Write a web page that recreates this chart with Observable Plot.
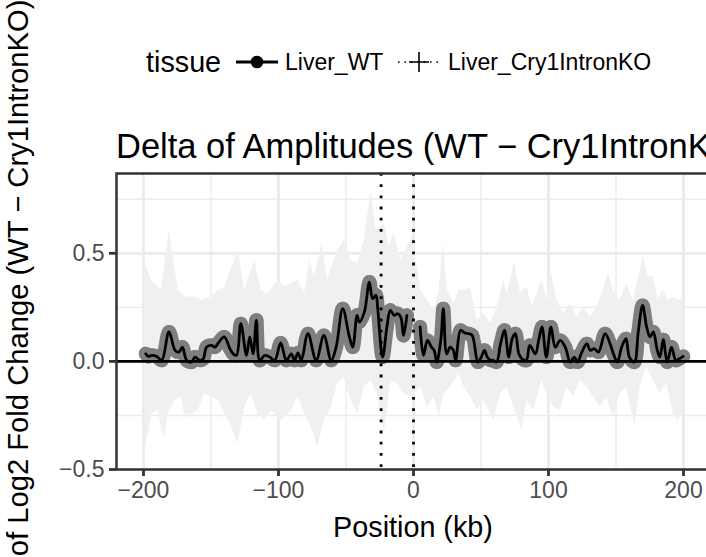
<!DOCTYPE html>
<html><head><meta charset="utf-8">
<script src="https://cdn.jsdelivr.net/npm/d3@7"></script>
<script src="https://cdn.jsdelivr.net/npm/@observablehq/plot@0.6"></script>
<style>
html,body{margin:0;padding:0;background:#fff;}
#wrap{position:relative;width:706px;height:557px;overflow:hidden;font-family:"Liberation Sans",Arial,Helvetica,sans-serif;}
#wrap svg{position:absolute;left:0;top:0;}
</style></head><body><div id="wrap"></div>
<script>
// ---- data ----
const tissues = ["Liver_WT", "Liver_Cry1IntronKO"];
const xTicks = [-200, -100, 0, 100, 200];
const xMinor = [-150, -50, 50, 150];
const yTicks = [-0.5, 0, 0.5];
const yMinor = [-0.25, 0.25, 0.75];
const markerLines = [-24, 0];

// delta (WT - KO), Liver_WT, null = no data (gap)
const linePos = [-198.3,-196.3,-193.9,-190.2,-186.5,-181.1,-176.6,-173.7,-171.2,-168.0,-164.3,-161.9,-158.2,-155.7,-153.3,-149.6,-147.1,-144.6,-140.2,-136.0,-133.6,-131.1,-127.9,-123.7,-121.3,-118.8,-116.4,-113.9,-110.2,-106.5,-102.8,-98.4,-94.2,-90.5,-88.1,-85.6,-83.1,-78.2,-72.1,-66.4,-61.0,-57.3,-52.4,-47.5,-45.0,-41.8,-40.1,-36.4,-32.7,-30.3,-27.8,-26.6,-22.9,-19.7,-17.2,-14.3,-11.8,-9.4,-7.4,-4.9,
 0,
 4.9,7.4,10.3,13.3,15.3,17.2,20.2,22.1,24.6,27.1,29.5,31.2,34.9,37.9,41.1,43.5,47.7,50.2,52.6,54.6,57.1,59.0,61.5,64.5,67.4,70.6,73.1,75.5,78.0,80.4,83.6,86.1,90.3,92.7,95.2,98.4,101.8,105.0,108.7,112.4,116.1,119.1,121.5,124.7,128.4,130.9,133.8,137.0,141.9,145.6,148.1,151.0,154.2,157.4,159.9,163.6,166.5,169.7,172.7,175.2,177.6,180.6,182.5,185.0,187.9,191.1,194.3,196.8,199.8];
const lineVal = [0.035,0.023,0.028,0.023,0.005,0.136,0.051,0.043,0.066,0.005,-0.003,0.020,0.005,0.012,0.066,0.074,0.066,0.085,0.113,0.059,0.035,0.028,0.174,0.028,0.113,0.035,0.190,0.005,0.028,0.020,0.005,0.085,0.005,0.035,0.005,0.039,0.005,0.128,0.005,0.120,0.005,0.066,0.244,0.113,0.066,0.213,0.182,0.228,0.367,0.290,0.306,0.252,0.020,0.159,0.236,0.213,0.221,0.205,0.120,0.213,
 null,
 0.159,0.028,0.097,0.066,0.051,-0.003,0.097,0.244,0.035,0.066,0.051,0.005,0.144,0.131,0.128,0.120,-0.003,0.020,0.051,0.020,0.005,0.005,-0.003,0.082,0.144,0.020,0.105,0.128,0.035,0.012,0.005,0.074,0.035,0.097,0.159,0.020,0.159,0.066,0.097,0.066,-0.003,0.020,-0.003,0.043,0.082,0.051,0.059,0.043,0.128,0.082,0.035,-0.003,0.066,0.105,0.020,-0.003,0.136,0.259,0.159,0.113,0.136,0.051,0.020,0.100,-0.003,0.066,0.005,0.012,0.023];

// ribbon (upper / lower bound)
const upperPos = [-198.8,-193.9,-186.5,-181.1,-174.2,-169.2,-161.9,-157.0,-149.6,-144.6,-139.7,-129.9,-125.0,-117.6,-112.7,-107.7,-100.4,-95.5,-85.6,-80.7,-77.0,-73.3,-67.9,-63.5,-57.3,-51.2,-46.3,-41.3,-36.4,-31.5,-27.8,-21.6,-18.0,-14.3,-9.4,-0.7,
 5.4,10.3,15.3,18.9,22.1,25.1,30.0,33.7,38.6,42.3,47.2,52.1,57.1,62.0,66.9,69.4,74.8,79.2,84.1,87.8,91.5,95.2,98.9,101.8,106.3,111.2,116.1,121.0,126.0,130.9,135.8,140.7,144.4,148.1,153.0,157.9,162.9,166.5,170.2,173.9,177.6,181.3,185.0,188.7,192.4,196.1,199.3];
const upperVal = [0.452,0.375,0.329,0.606,0.329,0.298,0.298,0.282,0.298,0.329,0.344,0.514,0.329,0.468,0.329,0.313,0.375,0.344,0.375,0.313,0.468,0.390,0.545,0.375,0.498,0.560,0.468,0.452,0.560,0.792,0.606,0.637,0.529,0.591,0.468,0.576,
 0.329,0.282,0.236,0.329,0.552,0.329,0.267,0.329,0.329,0.344,0.190,0.221,0.174,0.252,0.375,0.313,0.460,0.313,0.344,0.252,0.313,0.375,0.282,0.414,0.282,0.221,0.267,0.205,0.252,0.205,0.252,0.329,0.406,0.329,0.282,0.360,0.282,0.375,0.491,0.390,0.390,0.282,0.329,0.282,0.298,0.282,0.290];
const lowerPos = [-198.8,-196.3,-193.9,-188.9,-186.5,-184.0,-181.5,-176.6,-171.7,-169.2,-164.3,-159.4,-154.5,-149.6,-144.6,-139.7,-134.8,-129.9,-125.0,-120.1,-115.1,-110.2,-105.3,-97.9,-90.5,-85.6,-80.7,-75.8,-70.9,-65.9,-61.0,-56.1,-51.2,-46.3,-41.3,-36.4,-31.5,-26.6,-24.1,-21.6,-16.7,-11.8,-6.9,-2.0,
 5.4,10.3,15.3,18.9,22.6,27.6,33.7,37.4,42.3,47.2,52.1,59.5,64.5,69.4,74.3,80.4,84.1,89.0,95.2,98.9,103.8,108.7,113.6,118.6,123.5,128.4,133.3,138.2,143.2,148.1,153.0,157.9,164.1,167.8,172.7,177.6,182.5,187.5,192.4,196.1,199.3];
const lowerVal = [-0.397,-0.335,-0.242,-0.227,-0.319,-0.350,-0.242,-0.181,-0.165,-0.258,-0.242,-0.227,-0.150,-0.165,-0.181,-0.242,-0.304,-0.381,-0.211,-0.150,-0.242,-0.273,-0.227,-0.273,-0.227,-0.165,-0.242,-0.304,-0.397,-0.273,-0.211,-0.103,-0.073,-0.181,-0.242,-0.119,-0.088,-0.150,-0.242,-0.335,-0.088,-0.103,-0.150,-0.165,
 -0.119,-0.211,-0.165,-0.258,-0.150,-0.119,-0.057,-0.119,-0.165,-0.227,-0.181,-0.273,-0.150,-0.119,-0.211,-0.319,-0.181,-0.227,-0.088,-0.150,-0.211,-0.227,-0.119,-0.165,-0.088,-0.119,-0.165,-0.211,-0.165,-0.258,-0.150,-0.119,-0.304,-0.119,-0.026,-0.088,-0.150,-0.103,-0.242,-0.273,-0.242];

// ---- tables ----
const lineData = linePos.map((p, i) => ({pos: p, val: lineVal[i]}));
const upperData = upperPos.map((p, i) => ({pos: p, val: upperVal[i]}));
const lowerData = lowerPos.map((p, i) => ({pos: p, val: lowerVal[i]}));

const FONT = '"Liberation Sans", Arial, Helvetica, sans-serif';
const W = 706, H = 557;

const chart = Plot.plot({
  width: W, height: H,
  marginLeft: 116, marginRight: -4, marginTop: 173, marginBottom: 88,
  style: {fontFamily: FONT, background: "transparent", overflow: "hidden"},
  x: {domain: [-220, 220]},
  y: {domain: [-0.5, 0.869]},
  marks: [
    Plot.ruleX(xMinor, {stroke: "#EBEBEB", strokeWidth: 1.4}),
    Plot.ruleY(yMinor, {stroke: "#EBEBEB", strokeWidth: 1.4}),
    Plot.ruleX(xTicks, {stroke: "#EBEBEB", strokeWidth: 2.8}),
    Plot.ruleY(yTicks, {stroke: "#EBEBEB", strokeWidth: 2.8}),
    Plot.areaY(upperData, {x: "pos", y1: 0, y2: "val", fill: "#F0F0F0"}),
    Plot.areaY(lowerData, {x: "pos", y1: 0, y2: "val", fill: "#F0F0F0"}),
    Plot.line(lineData, {x: "pos", y: "val", stroke: "#7F7F7F", strokeWidth: 14, strokeLinejoin: "round", strokeLinecap: "round", curve: "catmull-rom"}),
    Plot.dot(lineData, {x: "pos", y: "val", r: 7, fill: "#7F7F7F", stroke: null}),
    Plot.line(lineData, {x: "pos", y: "val", stroke: "black", strokeWidth: 2.8, curve: "catmull-rom"}),
    Plot.ruleY([0], {stroke: "black", strokeWidth: 2.8}),
    Plot.ruleX(markerLines, {stroke: "black", strokeWidth: 2.8, strokeDasharray: "2.8 8.4"}),
    Plot.frame({stroke: "#333333", strokeWidth: 2.5}),
    Plot.axisX(xTicks, {tickSize: 7, tickPadding: 5, fontSize: 23, stroke: "#333333", strokeWidth: 2.8, fill: "#4D4D4D", tickFormat: d3.format("d"), label: null}),
    Plot.axisY(yTicks, {tickSize: 7, tickPadding: 5, fontSize: 23, stroke: "#333333", strokeWidth: 2.8, fill: "#4D4D4D", tickFormat: d3.format(".1f"), label: null})
  ]
});
document.getElementById("wrap").appendChild(chart);

// ---- overlay texts: title, axis titles, legend ----
const ov = d3.select("#wrap").append("svg")
  .attr("width", W).attr("height", H)
  .style("font-family", FONT);

ov.append("text").attr("x", 116).attr("y", 158)
  .attr("font-size", 34.5).attr("fill", "black")
  .text("Delta of Amplitudes (WT \u2212 Cry1IntronKO)");

ov.append("text").attr("x", 413).attr("y", 537)
  .attr("font-size", 28.75).attr("text-anchor", "middle").attr("fill", "black")
  .text("Position (kb)");

ov.append("text").attr("transform", "translate(28,316) rotate(-90)")
  .attr("font-size", 29.2).attr("text-anchor", "middle").attr("fill", "black")
  .text("Delta of Log2 Fold Change (WT \u2212 Cry1IntronKO)");

// legend
const lg = ov.append("g");
const ly = 62;
lg.append("text").attr("x", 146).attr("y", ly + 10).attr("font-size", 28.75).text("tissue");
const keyX = [236, 398], labX = [285, 448];
tissues.forEach((t, i) => {
  const k = lg.append("g").attr("transform", `translate(${keyX[i]},${ly})`);
  if (i === 0) {
    k.append("line").attr("x1", 0).attr("x2", 42).attr("y1", 0).attr("y2", 0)
      .attr("stroke", "black").attr("stroke-width", 2.8);
    k.append("circle").attr("cx", 21).attr("cy", 0).attr("r", 6.3).attr("fill", "black");
  } else {
    k.append("line").attr("x1", 0).attr("x2", 42).attr("y1", 0).attr("y2", 0)
      .attr("stroke", "black").attr("stroke-width", 1.6).attr("stroke-dasharray", "1.6 4.8");
    k.append("path").attr("d", "M21,-10V10M11,0H31")
      .attr("stroke", "black").attr("stroke-width", 1.6).attr("fill", "none");
  }
  lg.append("text").attr("x", labX[i]).attr("y", ly + 8).attr("font-size", 23).text(t);
});
</script>
</body></html>
